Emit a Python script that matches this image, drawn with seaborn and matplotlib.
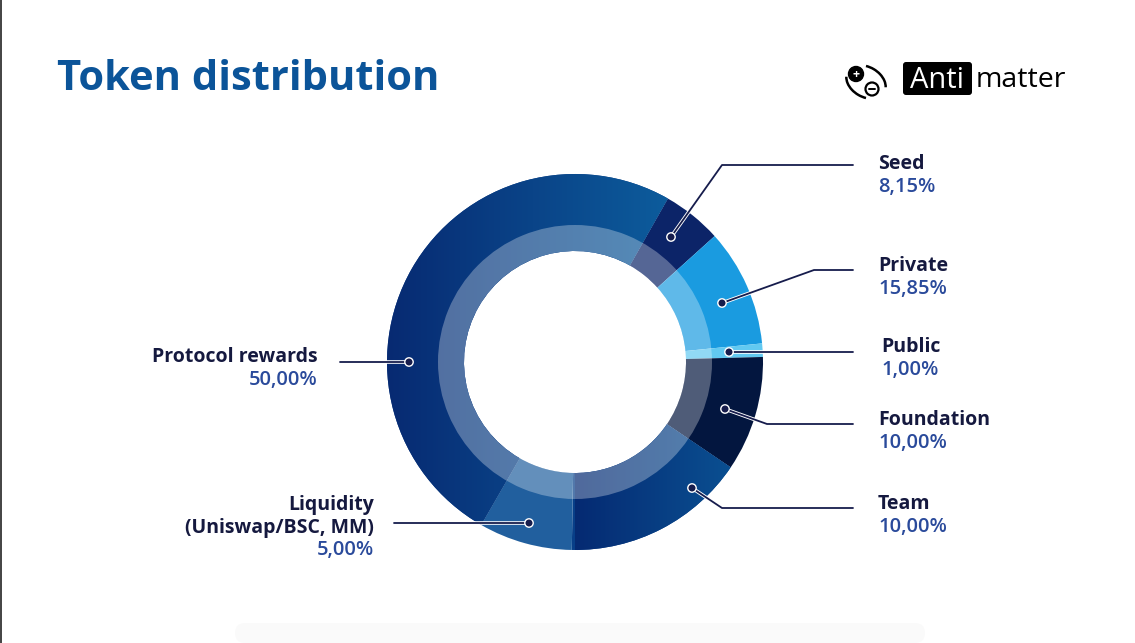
import numpy as np
import matplotlib
matplotlib.use("Agg")
import matplotlib.pyplot as plt
import seaborn as sns
from matplotlib.patches import Wedge, Circle, FancyBboxPatch, Arc
from matplotlib.colors import LinearSegmentedColormap

# ---------------- data ----------------
categories = ["Seed", "Private", "Public", "Foundation", "Team",
              "Liquidity\n(Uniswap/BSC, MM)", "Protocol rewards"]
pct_labels = ["8,15%", "15,85%", "1,00%", "10,00%", "10,00%", "5,00%", "50,00%"]
# slice shares as drawn in the picture (% of the circle)
slice_shares = [5.1, 10.1, 1.15, 9.9, 15.8, 8.05, 49.9]
slice_colors = ["#0c2468", "#1a9be0", "#62c9f1", "#03163f", "#083f88",
                "#215f9e", "#0a3d86"]

W, H = 1135, 643
sns.set_theme(style="white")
plt.rcParams['font.family'] = ['Open Sans', 'DejaVu Sans']

fig = plt.figure(figsize=(W / 100, H / 100), dpi=100)
ax = fig.add_axes([0, 0, 1, 1])

def Y(y):
    return H - y

cx, cy = 575, Y(362)
R_out, R_in = 188, 111
R_glass = 137

wedges, _ = ax.pie(slice_shares, colors=slice_colors, startangle=60.4,
                   counterclock=False, radius=R_out, center=(cx, cy),
                   wedgeprops=dict(width=R_out - R_in, linewidth=0),
                   frame=True)
ax.set_xlim(0, W)
ax.set_ylim(0, H)
ax.set_aspect("equal")
ax.axis("off")

# gradients on the two large wedges (Protocol, Team)
grad = np.linspace(0, 1, 256).reshape(1, -1)
for idx, (x0, x1, c0, c1) in {6: (387, 680, "#072a72", "#0d5e9e"),
                              4: (575, 760, "#052a72", "#0b5697")}.items():
    cm = LinearSegmentedColormap.from_list("g%d" % idx, [c0, c1])
    im = ax.imshow(grad, extent=(x0, x1, Y(555), Y(170)), cmap=cm,
                   aspect="auto", zorder=wedges[idx].get_zorder() + 0.1)
    im.set_clip_path(wedges[idx])

# translucent inner ring
ax.add_patch(Wedge((cx, cy), R_glass, 0, 360, width=R_glass - R_in,
                   facecolor="white", alpha=0.30, linewidth=0, zorder=5))

# ---------------- leader lines & labels ----------------
line_c = "#161c4c"
title_c = "#15193f"
value_c = "#2a4a9b"

# (dot x, dot y, elbow x, elbow y, end x, text x, text y, ha)
layout = [
    (671, 237, 722, 165, 853, 878, 164, "left"),
    (722, 303, 814, 270, 853, 878, 266, "left"),
    (729, 352, 760, 352, 853, 881, 347, "left"),
    (725, 409, 767, 424, 853, 878, 420, "left"),
    (692, 488, 722, 508, 853, 878, 504, "left"),
    (529, 523, 500, 523, 394, 374, 505, "right"),
    (409, 362, 380, 362, 340, 318, 357, "right"),
]

for (name, pct, (dx, dy, ex, ey, endx, tx, ty, ha)) in zip(categories, pct_labels, layout):
    xs = [dx, ex, endx]
    ys = [Y(dy), Y(ey), Y(ey)]
    ax.plot(xs, ys, color="white", lw=2.6, solid_capstyle="round", zorder=8)
    ax.plot(xs, ys, color=line_c, lw=1.3, solid_capstyle="round", zorder=9)
    ax.add_patch(Circle((dx, Y(dy)), 4.2, facecolor=line_c, edgecolor="white",
                        lw=1.0, zorder=10))
    lines = name.split("\n")
    step = 23
    for k, ln in enumerate(lines):
        ax.text(tx, Y(ty + k * step), ln, ha=ha, va="center", fontsize=14,
                fontweight="bold", color=title_c, zorder=11)
    ax.text(tx, Y(ty + len(lines) * step - (1 if len(lines) > 1 else 0)), pct,
            ha=ha, va="center", fontsize=14.5, fontweight="semibold",
            color=value_c, zorder=11)

# ---------------- title ----------------
ax.text(57, Y(80), "Token distribution", ha="left", va="center",
        fontsize=30, fontweight="bold", color="#0b5499")

# ---------------- logo ----------------
ax.add_patch(FancyBboxPatch((903, Y(95)), 69, 33,
                            boxstyle="round,pad=0,rounding_size=3",
                            facecolor="black", edgecolor="none"))
ax.text(937.5, Y(80), "Anti", ha="center", va="center", fontsize=21,
        color="white")
ax.text(976, Y(80), "matter", ha="left", va="center", fontsize=20.5,
        color="black")
ax.add_patch(Circle((856, Y(74)), 7.5, facecolor="black", edgecolor="black", lw=1))
ax.text(856, Y(74.5), "+", ha="center", va="center", fontsize=9,
        color="white", fontweight="bold")
ax.add_patch(Circle((872, Y(89)), 6.5, facecolor="white", edgecolor="black", lw=1.6))
ax.plot([869, 875], [Y(89), Y(89)], color="black", lw=1.4)
ax.add_patch(Arc((866, Y(82)), 42, 30, angle=-30, theta1=15, theta2=120,
                 color="black", lw=1.8))
ax.add_patch(Arc((866, Y(82)), 42, 30, angle=-30, theta1=195, theta2=300,
                 color="black", lw=1.8))

# left border line and faint bottom shadow
ax.plot([0.7, 0.7], [0, H], color="#222222", lw=1.2)
ax.add_patch(FancyBboxPatch((235, 0), 690, 20,
                            boxstyle="round,pad=0,rounding_size=10",
                            facecolor="#fafafa", edgecolor="none", zorder=0))

fig.savefig("out.png", dpi=100)
